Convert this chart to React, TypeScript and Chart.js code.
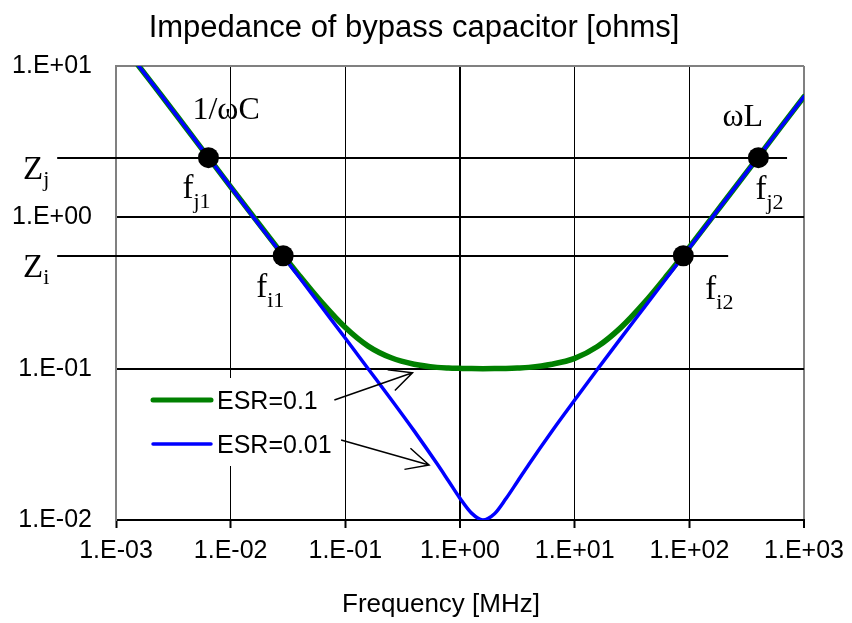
import { useEffect, useRef } from 'react';
import { Chart, registerables } from 'chart.js';

Chart.register(...registerables);

// Frequency samples in MHz
const freqMHz = [
  0.001, 0.00158, 0.00251, 0.00398, 0.00631, 0.01, 0.0158, 0.0251, 0.0398, 0.0631,
  0.1, 0.158, 0.251, 0.398, 0.631, 0.794, 1.0, 1.26, 1.58, 2.0, 2.51, 3.16, 3.98,
  6.31, 10, 15.8, 25.1, 39.8, 63.1, 100, 158, 251, 398, 631, 1000,
];

// |Z| in ohms with ESR = 0.1
const zEsr01 = [
  15.9, 10.0, 6.34, 4.0, 2.52, 1.59, 1.01, 0.641, 0.412, 0.271,
  0.187, 0.141, 0.118, 0.107, 0.102, 0.101, 0.1005, 0.1001, 0.1, 0.1001, 0.1004, 0.101, 0.102,
  0.107, 0.117, 0.14, 0.186, 0.269, 0.409, 0.636, 1.0, 1.58, 2.5, 3.97, 6.28,
];

// |Z| in ohms with ESR = 0.01
const zEsr001 = [
  15.9, 10.0, 6.34, 4.0, 2.52, 1.59, 1.0, 0.634, 0.4, 0.252,
  0.159, 0.0999, 0.0626, 0.0388, 0.0235, 0.0181, 0.0139, 0.0111, 0.01, 0.011, 0.0138, 0.0179, 0.0233,
  0.0385, 0.0621, 0.0991, 0.158, 0.25, 0.396, 0.628, 0.996, 1.58, 2.5, 3.97, 6.28,
];

const xTickValues = [0.001, 0.01, 0.1, 1, 10, 100, 1000];
const yTickValues = [0.01, 0.1, 1, 10];

// Target impedance levels Zj, Zi and the span of their reference lines (MHz)
const levelSubs = ['j', 'i'];
const levelZ = [2.48, 0.557];
const levelFromFreq = [0.000307, 0.000307];
const levelToFreq = [711, 218];

// Crossing frequencies of the curves with those levels
const crossSubs = ['j1', 'i1', 'i2', 'j2'];
const crossFreq = [0.0064, 0.0287, 88.6, 400];
const crossZ = [2.48, 0.557, 0.557, 2.48];

// Legend arrows: tail and tip in data units (MHz, ohms)
const arrowFromF = [0.0802, 0.0918];
const arrowFromZ = [0.0621, 0.0338];
const arrowToF = [0.385, 0.537];
const arrowToZ = [0.0939, 0.0231];

const seriesNames = ['ESR=0.1', 'ESR=0.01'];
const seriesColors = ['#008000', '#0000ff'];

const SANS = '"Liberation Sans", Arial, sans-serif';
const SERIF = '"Liberation Serif", "Times New Roman", serif';

const fmtExp = (v: number) => {
  const e = Math.round(Math.log10(v));
  return `1.E${e < 0 ? '-' : '+'}${String(Math.abs(e)).padStart(2, '0')}`;
};

function subText(
  ctx: CanvasRenderingContext2D,
  x: number,
  y: number,
  main: string,
  sub: string,
  size: number,
  subSize: number,
  subDy: number,
) {
  ctx.font = `${size}px ${SERIF}`;
  ctx.fillText(main, x, y);
  const w = ctx.measureText(main).width;
  ctx.font = `${subSize}px ${SERIF}`;
  ctx.fillText(sub, x + w, y + subDy);
}

function arrow(ctx: CanvasRenderingContext2D, x0: number, y0: number, x1: number, y1: number) {
  const ang = Math.atan2(y0 - y1, x0 - x1);
  const len = 25;
  const spread = (26 * Math.PI) / 180;
  ctx.beginPath();
  ctx.moveTo(x0, y0);
  ctx.lineTo(x1, y1);
  ctx.moveTo(x1 + len * Math.cos(ang - spread), y1 + len * Math.sin(ang - spread));
  ctx.lineTo(x1, y1);
  ctx.lineTo(x1 + len * Math.cos(ang + spread), y1 + len * Math.sin(ang + spread));
  ctx.stroke();
}

const levelLines = {
  id: 'levelLines',
  beforeDatasetsDraw(chart: any) {
    const { ctx, scales } = chart;
    const xs = scales.x;
    const ys = scales.y;
    ctx.save();
    ctx.strokeStyle = '#000';
    ctx.lineWidth = 2;
    levelZ.forEach((z, i) => {
      const y = Math.round(ys.getPixelForValue(z));
      ctx.beginPath();
      ctx.moveTo(xs.getPixelForValue(levelFromFreq[i]), y);
      ctx.lineTo(xs.getPixelForValue(levelToFreq[i]), y);
      ctx.stroke();
    });
    ctx.restore();
  },
};

const annotations = {
  id: 'annotations',
  afterDraw(chart: any) {
    const { ctx, scales, chartArea } = chart;
    const xs = scales.x;
    const ys = scales.y;
    ctx.save();
    ctx.fillStyle = '#000';
    ctx.textBaseline = 'alphabetic';

    // title and x axis title
    ctx.textAlign = 'center';
    ctx.font = `31px ${SANS}`;
    ctx.fillText('Impedance of bypass capacitor [ohms]', 414, 37);
    ctx.font = `26px ${SANS}`;
    ctx.fillText('Frequency [MHz]', 441, 612);

    // legend box
    ctx.textAlign = 'left';
    ctx.fillStyle = '#fff';
    ctx.fillRect(chartArea.left + 29, 378, 196, 88);
    const legendY = [400, 444];
    const legendW = [5, 3.5];
    seriesNames.forEach((name, i) => {
      ctx.strokeStyle = seriesColors[i];
      ctx.lineWidth = legendW[i];
      ctx.lineCap = 'round';
      ctx.beginPath();
      ctx.moveTo(chartArea.left + 37, legendY[i]);
      ctx.lineTo(chartArea.left + 95, legendY[i]);
      ctx.stroke();
      ctx.fillStyle = '#000';
      ctx.font = `25px ${SANS}`;
      ctx.fillText(name, chartArea.left + 101, legendY[i] + 9);
    });

    // arrows from the legend to the curves
    ctx.strokeStyle = '#000';
    ctx.lineWidth = 1.5;
    ctx.lineCap = 'butt';
    arrowFromF.forEach((f, i) => {
      arrow(
        ctx,
        xs.getPixelForValue(f),
        ys.getPixelForValue(arrowFromZ[i]),
        xs.getPixelForValue(arrowToF[i]),
        ys.getPixelForValue(arrowToZ[i]),
      );
    });

    // level labels Zj, Zi
    levelZ.forEach((z, i) => {
      const y = ys.getPixelForValue(z);
      subText(ctx, 23, y + 21, 'Z', levelSubs[i], 33, 22, 7);
    });

    // crossing labels
    const dx = [-26, -27, 22, -3];
    const dy = [40, 41, 43, 41];
    crossFreq.forEach((f, i) => {
      const px = xs.getPixelForValue(f);
      const py = ys.getPixelForValue(crossZ[i]);
      subText(ctx, px + dx[i], py + dy[i], 'f', crossSubs[i], 33, 22, 10);
      if (i === 0) {
        ctx.font = `32px ${SERIF}`;
        ctx.fillText('1/\u03C9C', px - 16, py - 39);
      }
      if (i === 3) {
        ctx.font = `32px ${SERIF}`;
        ctx.fillText('\u03C9L', px - 36, py - 32);
      }
    });
    ctx.restore();
  },
};

export default function App() {
  const canvasRef = useRef<HTMLCanvasElement | null>(null);

  useEffect(() => {
    const canvas = canvasRef.current;
    if (!canvas) return;
    const chart = new Chart(canvas, {
      type: 'line',
      data: {
        datasets: [
          {
            label: 'crossings',
            data: crossFreq.map((f, i) => ({ x: f, y: crossZ[i] })),
            showLine: false,
            pointRadius: 10.5,
            pointBackgroundColor: '#000',
            pointBorderColor: '#000',
            pointBorderWidth: 0,
            order: 0,
          },
          {
            label: seriesNames[1],
            data: freqMHz.map((f, i) => ({ x: f, y: zEsr001[i] })),
            borderColor: seriesColors[1],
            borderWidth: 3.5,
            pointRadius: 0,
            cubicInterpolationMode: 'monotone',
            borderCapStyle: 'round',
            borderJoinStyle: 'round',
            order: 1,
          },
          {
            label: seriesNames[0],
            data: freqMHz.map((f, i) => ({ x: f, y: zEsr01[i] })),
            borderColor: seriesColors[0],
            borderWidth: 5.5,
            pointRadius: 0,
            cubicInterpolationMode: 'monotone',
            borderCapStyle: 'round',
            borderJoinStyle: 'round',
            order: 2,
          },
        ],
      },
      options: {
        responsive: false,
        animation: false,
        devicePixelRatio: 1,
        layout: { padding: { top: 66, right: 46, left: 0, bottom: 0 } },
        plugins: {
          legend: { display: false },
          title: { display: false },
          tooltip: { enabled: false },
        },
        scales: {
          x: {
            type: 'logarithmic',
            min: 0.001,
            max: 1000,
            afterBuildTicks: (axis: any) => {
              axis.ticks = xTickValues.map((v) => ({ value: v }));
            },
            afterFit: (axis: any) => {
              axis.height = 103;
            },
            ticks: {
              callback: (v: any) => fmtExp(Number(v)),
              color: '#000',
              font: { family: SANS, size: 25 },
              padding: 8,
              maxRotation: 0,
              autoSkip: false,
            },
            grid: {
              color: (c: any) =>
                c.tick && c.tick.value === 1000
                  ? '#808080'
                  : c.tick && c.tick.value === 0.001
                    ? 'rgba(0,0,0,0)'
                    : '#000',
              lineWidth: (c: any) => (c.tick && (c.tick.value === 1 || c.tick.value === 1000) ? 2 : 1),
              tickColor: '#000',
              tickWidth: 2,
              tickLength: 8,
              drawTicks: true,
            },
            border: { display: true, color: '#000', width: 2 },
          },
          y: {
            type: 'logarithmic',
            min: 0.01,
            max: 10,
            afterBuildTicks: (axis: any) => {
              axis.ticks = yTickValues.map((v) => ({ value: v }));
            },
            afterFit: (axis: any) => {
              axis.width = 116;
            },
            ticks: {
              callback: (v: any) => fmtExp(Number(v)),
              color: '#000',
              font: { family: SANS, size: 25 },
              padding: 24,
              autoSkip: false,
            },
            grid: {
              color: (c: any) => (c.tick && c.tick.value === 10 ? '#808080' : '#000'),
              lineWidth: 2,
              drawTicks: false,
            },
            border: { display: true, color: '#808080', width: 2 },
          },
        },
      },
      plugins: [levelLines, annotations],
    } as any);
    return () => chart.destroy();
  }, []);

  return (
    <div style={{ position: 'fixed', left: 0, top: 0, width: 852, height: 623, background: '#fff' }}>
      <canvas ref={canvasRef} width={852} height={623} style={{ display: 'block' }} />
    </div>
  );
}
